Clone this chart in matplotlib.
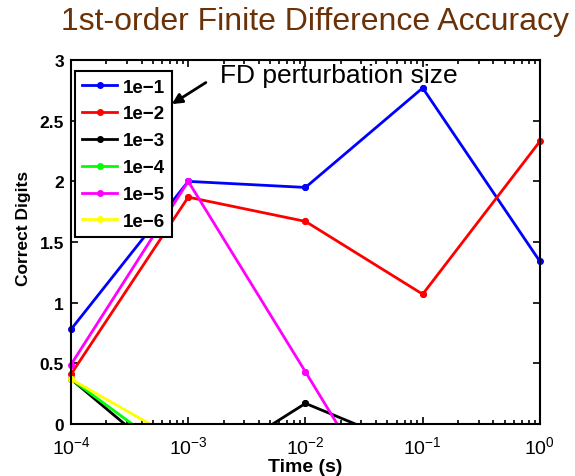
import matplotlib
matplotlib.use('Agg')
import matplotlib.pyplot as plt

plt.rcParams['font.family'] = ['Liberation Sans', 'DejaVu Sans']
plt.rcParams['mathtext.fontset'] = 'custom'
plt.rcParams['mathtext.rm'] = 'Liberation Sans:bold'
plt.rcParams['mathtext.it'] = 'Liberation Sans:bold'
plt.rcParams['mathtext.bf'] = 'Liberation Sans:bold'

# time points and correct digits for each perturbation size
times = [1e-4, 1e-3, 1e-2, 1e-1, 1e0]
labels = ['1e\u22121', '1e\u22122', '1e\u22123', '1e\u22124', '1e\u22125', '1e\u22126']
colors = ['#0000ff', '#ff0000', '#000000', '#00ff00', '#ff00ff', '#ffff00']
digits = [
    [0.78, 2.00, 1.95, 2.77, 1.34],
    [0.41, 1.87, 1.67, 1.07, 2.33],
    [0.37, -0.44, 0.17, -0.23, -0.5],
    [0.37, -0.34, -0.6, -0.8, -0.7],
    [0.49, 2.00, 0.43, -1.16, -0.9],
    [0.37, -0.18, -0.5, -0.7, -0.6],
]
ymin, ymax = 0, 3

fig = plt.figure(figsize=(5.75, 4.77), dpi=100)
ax = fig.add_axes([0.1235, 0.109, 0.8155, 0.763])

for lab, col, d in zip(labels, colors, digits):
    ax.plot(times, d, '-', color=col, lw=2, marker='o', ms=4, label=lab)
    # markers on the axes edges are drawn in full
    shown = [(t, v) for t, v in zip(times, d) if ymin <= v <= ymax]
    ax.plot([p[0] for p in shown], [p[1] for p in shown], 'o', color=col,
            ms=4, clip_on=False)

ax.set_xscale('log')
ax.set_xlim(1e-4, 1)
ax.set_ylim(ymin, ymax)
ax.set_yticks([0, 0.5, 1, 1.5, 2, 2.5, 3])
ax.set_yticklabels(['0', '0.5', '1', '1.5', '2', '2.5', '3'])
ax.tick_params(which='both', direction='in', top=True, right=True, width=1.2)
ax.tick_params(which='major', length=5)
ax.tick_params(which='minor', length=3)
ax.tick_params(axis='y', labelsize=12.5, pad=5)
ax.tick_params(axis='x', labelsize=14, pad=8)
for t in ax.get_yticklabels():
    t.set_fontweight('bold')
for sp in ax.spines.values():
    sp.set_linewidth(1.5)

ax.set_xlabel('Time (s)', fontsize=14, fontweight='bold', labelpad=1)
ax.set_ylabel('Correct Digits', fontsize=12.5, fontweight='bold')
ax.yaxis.set_label_coords(-0.085, 0.54)

leg = ax.legend(loc='upper left', bbox_to_anchor=(0.008, 0.97), borderaxespad=0,
                prop={'weight': 'bold', 'size': 13.5}, handlelength=1.85,
                labelspacing=0.52, fancybox=False, framealpha=1,
                edgecolor='black', handletextpad=0.3, borderpad=0.4)
leg.get_frame().set_linewidth(1.5)

ax.annotate('FD perturbation size', xy=(0.215, 0.879), xytext=(0.318, 0.958),
            xycoords='axes fraction', textcoords='axes fraction',
            fontsize=19, va='center', ha='left',
            arrowprops=dict(arrowstyle='-|>', color='black', lw=2,
                            mutation_scale=15, shrinkA=0, shrinkB=0,
                            relpos=(-0.06, 0.2)))

fig.text(0.548, 0.953, '1st-order Finite Difference Accuracy', color='#6b3208',
         fontsize=23, ha='center', va='center')

fig.savefig('out.png', dpi=100)
